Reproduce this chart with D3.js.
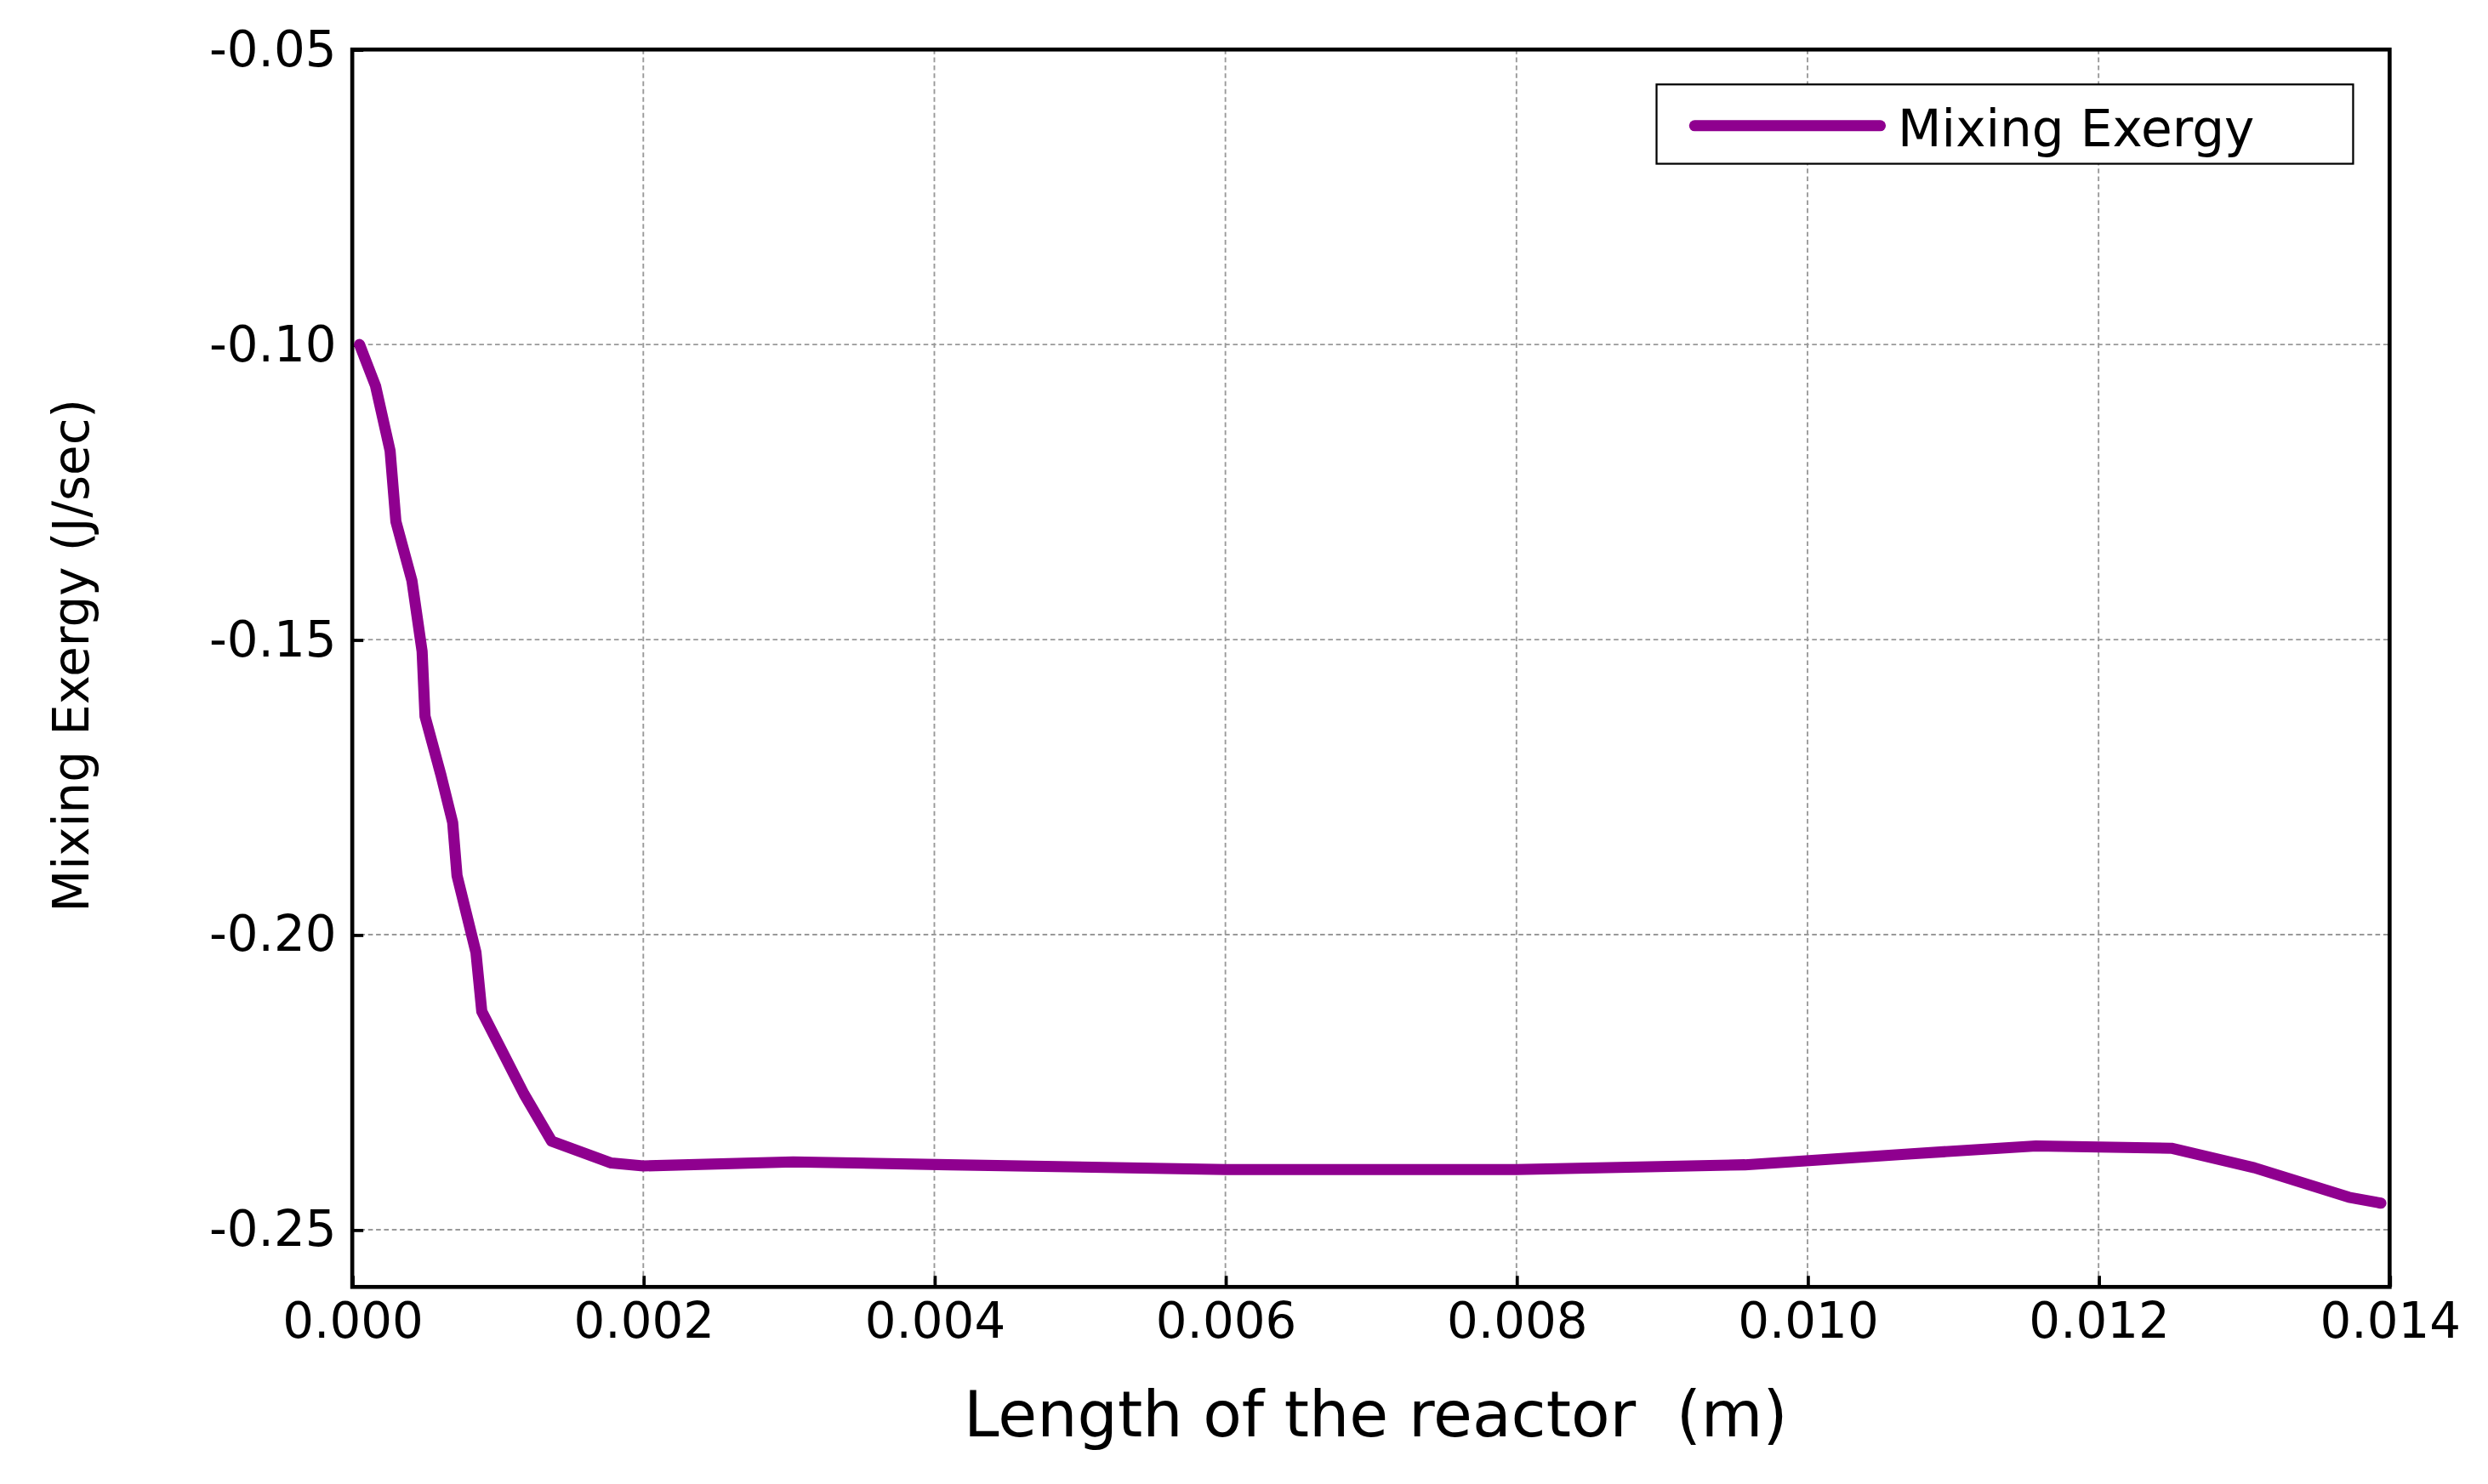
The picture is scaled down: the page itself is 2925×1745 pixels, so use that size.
<!DOCTYPE html>
<html><head><meta charset="utf-8">
<script src="https://cdn.jsdelivr.net/npm/d3@7"></script>
<style>html,body{margin:0;padding:0;background:#fff;overflow:hidden}</style>
</head><body>
<script>
const xs = [0.00005,0.00016,0.00026,0.0003,0.00041,0.00048,0.0005,0.00061,0.00069,0.00072,0.00085,0.00089,0.00118,0.00137,0.00178,0.002,0.00303,0.0041,0.006,0.008,0.00957,0.01067,0.01157,0.0125,0.01307,0.01372,0.01394];
const ys = [-0.100,-0.107,-0.118,-0.130,-0.140,-0.152,-0.163,-0.173,-0.181,-0.190,-0.203,-0.213,-0.227,-0.235,-0.2387,-0.2392,-0.2385,-0.239,-0.2398,-0.2398,-0.239,-0.2372,-0.2358,-0.2362,-0.2395,-0.2445,-0.2455];
const xTicks = [0,0.002,0.004,0.006,0.008,0.010,0.012,0.014];
const yTicks = [-0.25,-0.20,-0.15,-0.10,-0.05];
const seriesName = "Mixing Exergy";

const FONT="'DejaVu Sans',Verdana,sans-serif";
const W=1568,H=935;
const svg=d3.select("body").append("svg").attr("width",2925).attr("height",1745).attr("viewBox",`0 0 ${W} ${H}`)
 .style("font-family",FONT);
const L=222,R=1506,T=31,B=811;
const x=d3.scaleLinear().domain([0,0.014]).range([L,R]);
const y=d3.scaleLinear().domain([-0.2597,-0.05]).range([B,T]);
const g=svg.append("g");
g.selectAll(".gx").data(xTicks.slice(1,-1)).join("line").attr("x1",d=>x(d)).attr("x2",d=>x(d)).attr("y1",T).attr("y2",B)
 .attr("stroke","#999").attr("stroke-width",1).attr("stroke-dasharray","3,2");
g.selectAll(".gy").data(yTicks.slice(0,-1)).join("line").attr("y1",d=>y(d)).attr("y2",d=>y(d)).attr("x1",L).attr("x2",R)
 .attr("stroke","#999").attr("stroke-width",1).attr("stroke-dasharray","3,2");
const xa=svg.append("g").attr("transform",`translate(0,${B})`).call(d3.axisBottom(x).tickValues(xTicks).tickFormat(d=>d3.format(".3f")(d)).tickSize(-7).tickPadding(10));
const ya=svg.append("g").attr("transform",`translate(${L},0)`).call(d3.axisLeft(y).tickValues(yTicks).tickFormat(d=>d.toFixed(2)).tickSize(-7).tickPadding(10));
[xa,ya].forEach(a=>{a.select(".domain").remove();a.selectAll("line").attr("stroke","#000").attr("stroke-width",2);
 a.selectAll("text").attr("font-size",31).attr("fill","#000").attr("font-family",FONT);});
svg.append("rect").attr("x",L).attr("y",T).attr("width",R-L).attr("height",B-T).attr("fill","none").attr("stroke","#000").attr("stroke-width",2.5);
const pts=xs.map((v,i)=>[v,ys[i]]);
svg.append("path").datum(pts).attr("d",d3.line().x(d=>x(d[0])).y(d=>y(d[1])))
 .attr("fill","none").attr("stroke","#8f008f").attr("stroke-width",7).attr("stroke-linejoin","round").attr("stroke-linecap","round");
svg.append("rect").attr("x",1044).attr("y",53).attr("width",439).attr("height",50).attr("fill","#fff").attr("stroke","#000").attr("stroke-width",1.2);
svg.append("line").attr("x1",1068).attr("x2",1185).attr("y1",79).attr("y2",79).attr("stroke","#8f008f").attr("stroke-width",7).attr("stroke-linecap","round");
svg.append("text").attr("x",1196).attr("y",92).attr("font-size",32).text(seriesName);
svg.append("text").attr("x",(L+R)/2+3).attr("y",905).attr("text-anchor","middle").attr("font-size",40).attr("xml:space","preserve").text("Length of the reactor  (m)");
svg.append("text").attr("transform",`translate(56,${(T+B)/2-8}) rotate(-90)`).attr("text-anchor","middle").attr("font-size",31).text("Mixing Exergy (J/sec)");
</script></body></html>
